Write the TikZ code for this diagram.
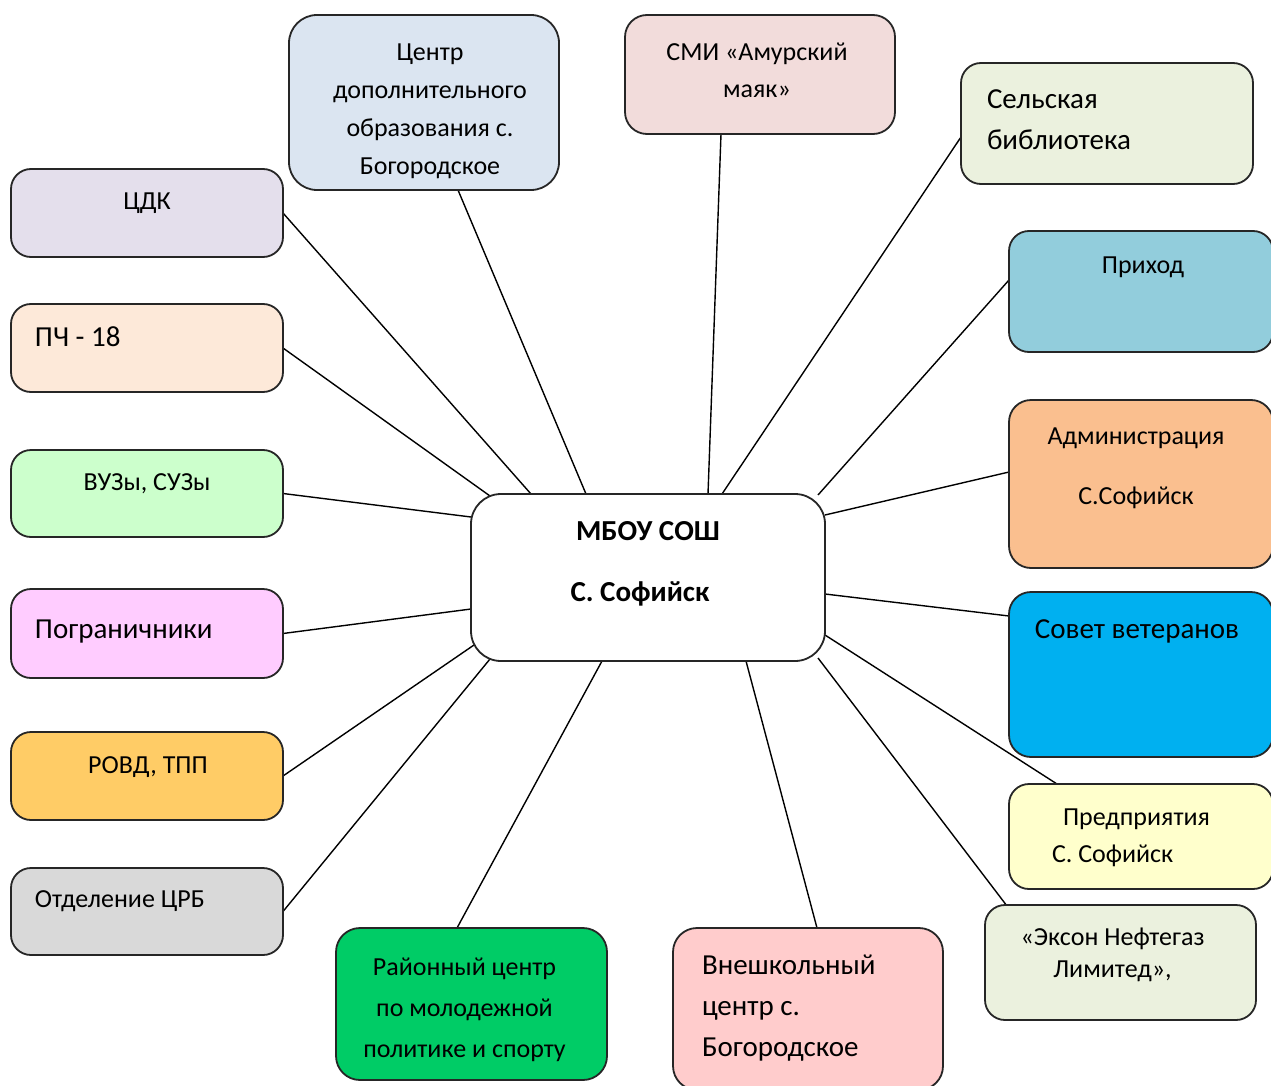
\documentclass[tikz,border=0pt]{standalone}
\usepackage{fontspec}
\setmainfont{Carlito}
\usetikzlibrary{calc}
\pgfdeclarelayer{bg}
\pgfsetlayers{bg,main}
\definecolor{bordc}{HTML}{262626}
\definecolor{cdkc}{HTML}{E4DFEC}
\definecolor{pchc}{HTML}{FDE9D9}
\definecolor{vuzc}{HTML}{CCFFCC}
\definecolor{pogc}{HTML}{FFCCFF}
\definecolor{rovdc}{HTML}{FFCC66}
\definecolor{crbc}{HTML}{D9D9D9}
\definecolor{cdoc}{HTML}{DBE5F1}
\definecolor{smic}{HTML}{F2DCDB}
\definecolor{selc}{HTML}{EBF1DE}
\definecolor{prihc}{HTML}{92CDDC}
\definecolor{admc}{HTML}{FABF8F}
\definecolor{sovc}{HTML}{00B0F0}
\definecolor{predc}{HTML}{FFFFCC}
\definecolor{exc}{HTML}{EBF1DE}
\definecolor{rcc}{HTML}{00CC66}
\definecolor{vshc}{HTML}{FFCCCC}
% #1 width, #2 height, #3 cap-centre offset of first line from top, #4 setup, #5 text
\newcommand{\boxtext}[5]{\begin{minipage}[c][#2pt][t]{#1pt}#4\vspace*{\dimexpr#3pt-0.7\baselineskip+0.32em\relax}\strut #5\end{minipage}}
\newcommand{\fm}[1]{\fontsize{26}{#1}\selectfont}
\newcommand{\fl}[1]{\fontsize{29}{#1}\selectfont}
\newcommand{\ctr}[1]{\centering\advance\leftskip by #1pt}
\newcommand{\ctrl}[1]{\centering\advance\rightskip by #1pt}
\newcommand{\lft}[1]{\raggedright\leftskip=#1pt}
\begin{document}
\begin{tikzpicture}[x=1pt,y=-1pt,
  box/.style={draw=bordc, line width=1.8pt, rounded corners=20pt, inner sep=0pt, outer sep=0pt},
  conn/.style={line width=1.4pt, draw=black}]
\useasboundingbox (0,0) rectangle (1271,1086);
\begin{pgfonlayer}{bg}
\fill[white] (0,0) rectangle (1271,1086);
\end{pgfonlayer}
% left column
\node[box, fill=cdkc] (cdk) at (147,213) {\boxtext{272}{88}{32}{\fm{38}\ctr{0}}{ЦДК}};
\node[box, fill=pchc] (pch) at (147,348) {\boxtext{272}{88}{33}{\fl{38}\lft{24}}{ПЧ - 18}};
\node[box, fill=vuzc] (vuz) at (147,493.5) {\boxtext{272}{87}{32}{\fm{38}\ctr{0}}{ВУЗы, СУЗы}};
\node[box, fill=pogc] (pog) at (147,633.5) {\boxtext{272}{89}{40}{\fl{38}\lft{24}}{Пограничники}};
\node[box, fill=rovdc] (rovd) at (147,776) {\boxtext{272}{88}{33}{\fm{38}\ctr{2}}{РОВД, ТПП}};
\node[box, fill=crbc] (crb) at (147,911.5) {\boxtext{272}{87}{31}{\fm{38}\lft{24}}{Отделение ЦРБ}};
% top
\node[box, fill=cdoc, rounded corners=28pt] (cdo) at (424,102.5) {\boxtext{270}{175}{37}{\fm{38}\ctr{12}}{Центр\\ дополнительного\\ образования с.\\ Богородское}};
\node[box, fill=smic, rounded corners=22pt] (smi) at (760,74.5) {\boxtext{270}{119}{37}{\fm{37}\ctrl{6}}{СМИ «Амурский\\ маяк»}};
\node[box, fill=selc] (sel) at (1107,123.5) {\boxtext{292}{121}{36}{\fl{41}\lft{26}}{Сельская\\ библиотека}};
% right column (cut off by the right edge)
\node[box, fill=prihc] (prih) at (1141,291.5) {\boxtext{264}{121}{34}{\fm{38}\ctr{4}}{Приход}};
\node[box, fill=admc, rounded corners=22pt] (adm) at (1141,484) {\boxtext{264}{168}{36}{\fm{60}\ctrl{10}}{Администрация\\ С.Софийск}};
\node[box, fill=sovc, rounded corners=22pt] (sov) at (1141,674.5) {\boxtext{264}{165}{37}{\fl{38}\ctrl{8}}{Совет ветеранов}};
\node[box, fill=predc] (pred) at (1141,836.5) {\boxtext{264}{105}{33}{\fm{37}\lft{43}}{\hspace*{11pt}Предприятия\\ С. Софийск}};
\node[box, fill=exc] (ex) at (1120.5,962.5) {\boxtext{271}{115}{32}{\fm{32}\ctrl{16}}{«Эксон Нефтегаз\\ Лимитед»,}};
% bottom
\node[box, fill=rcc, rounded corners=24pt] (rc) at (471.5,1004) {\boxtext{271}{152}{39}{\fm{41}\ctrl{14}}{Районный центр\\ по молодежной\\ политике и спорту}};
\node[box, fill=vshc, rounded corners=24pt] (vsh) at (808,1009) {\boxtext{270}{162}{37}{\fl{41}\lft{29}}{Внешкольный\\ центр с.\\ Богородское}};
% centre
\node[box, fill=white, rounded corners=30pt] (c) at (648,577.5) {\boxtext{354}{167}{37}{\fontsize{29}{61}\selectfont\bfseries\ctr{0}}{МБОУ СОШ\\ \hspace*{-16pt}С. Софийск}};
% connectors
\begin{pgfonlayer}{bg}
\draw[conn] (cdk.east) -- ($(c.north west)+(60,0)$);
\draw[conn] (pch.east) -- ($(c.north west)+(19,2)$);
\draw[conn] (vuz.east) -- ($(c.north west)+(0,23)$);
\draw[conn] (pog.east) -- ($(c.north west)+(0,115)$);
\draw[conn] (rovd.east) -- ($(c.north west)+(3,151)$);
\draw[conn] (crb.east) -- ($(c.south west)+(19,-2)$);
\draw[conn] ($(rc.north west)+(121,0)$) -- ($(c.south west)+(131,0)$);
\draw[conn] ($(vsh.north west)+(144,0)$) -- ($(c.south west)+(275,0)$);
\draw[conn] ($(ex.north west)+(22,1)$) -- ($(c.south east)+(-7,-3)$);
\draw[conn] ($(pred.north west)+(48,0)$) -- ($(c.north east)+(0,141)$);
\draw[conn] ($(sov.north west)+(0,24)$) -- ($(c.north east)+(0,100)$);
\draw[conn] ($(adm.north west)+(0,72)$) -- ($(c.north east)+(0,21)$);
\draw[conn] ($(prih.north west)+(0,49)$) -- ($(c.north east)+(-7,1)$);
\draw[conn] ($(sel.north west)+(0,74)$) -- ($(c.north west)+(251,0)$);
\draw[conn] ($(smi.south west)+(96,0)$) -- ($(c.north west)+(237,0)$);
\draw[conn] ($(cdo.south west)+(169,0)$) -- ($(c.north west)+(115,0)$);
\end{pgfonlayer}
\end{tikzpicture}
\end{document}
